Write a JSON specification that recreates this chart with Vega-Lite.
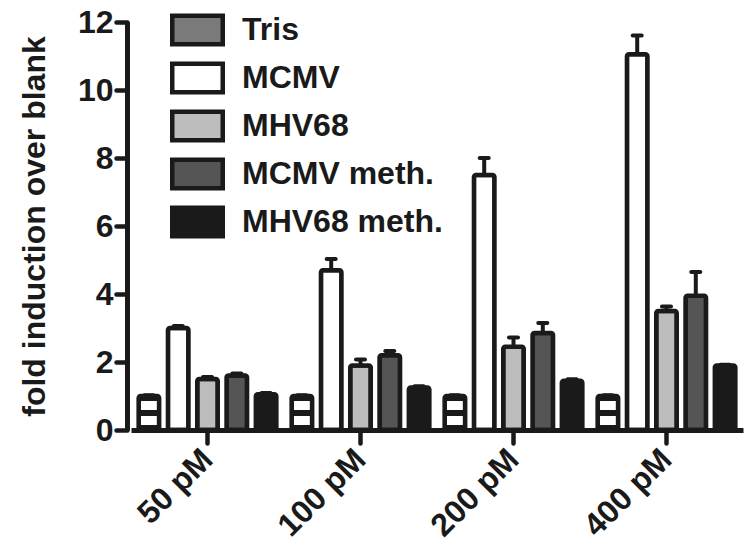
{
  "$schema": "https://vega.github.io/schema/vega-lite/v6.json",
  "width": 612,
  "height": 408,
  "autosize": {"type": "none"},
  "padding": {"left": 131, "top": 22, "right": 7, "bottom": 127},
  "background": "white",
  "config": {"view": {"stroke": null}, "font": "Liberation Sans"},
  "data": {"values": [
    {"conc": "50 pM", "group": "Tris", "value": 1.0, "hi": 1.02},
    {"conc": "50 pM", "group": "MCMV", "value": 3.0, "hi": 3.06},
    {"conc": "50 pM", "group": "MHV68", "value": 1.5, "hi": 1.56},
    {"conc": "50 pM", "group": "MCMV meth.", "value": 1.6, "hi": 1.66},
    {"conc": "50 pM", "group": "MHV68 meth.", "value": 1.05, "hi": 1.09},
    {"conc": "100 pM", "group": "Tris", "value": 1.0, "hi": 1.02},
    {"conc": "100 pM", "group": "MCMV", "value": 4.7, "hi": 5.03},
    {"conc": "100 pM", "group": "MHV68", "value": 1.9, "hi": 2.07},
    {"conc": "100 pM", "group": "MCMV meth.", "value": 2.2, "hi": 2.32},
    {"conc": "100 pM", "group": "MHV68 meth.", "value": 1.25, "hi": 1.29},
    {"conc": "200 pM", "group": "Tris", "value": 1.0, "hi": 1.02},
    {"conc": "200 pM", "group": "MCMV", "value": 7.5, "hi": 8.0},
    {"conc": "200 pM", "group": "MHV68", "value": 2.45, "hi": 2.72},
    {"conc": "200 pM", "group": "MCMV meth.", "value": 2.85, "hi": 3.15},
    {"conc": "200 pM", "group": "MHV68 meth.", "value": 1.45, "hi": 1.49},
    {"conc": "400 pM", "group": "Tris", "value": 1.0, "hi": 1.02},
    {"conc": "400 pM", "group": "MCMV", "value": 11.05, "hi": 11.6},
    {"conc": "400 pM", "group": "MHV68", "value": 3.5, "hi": 3.63},
    {"conc": "400 pM", "group": "MCMV meth.", "value": 3.95, "hi": 4.65},
    {"conc": "400 pM", "group": "MHV68 meth.", "value": 1.9, "hi": 1.92}
  ]},
  "encoding": {
    "x": {
      "field": "conc", "type": "nominal",
      "sort": ["50 pM", "100 pM", "200 pM", "400 pM"],
      "scale": {"paddingInner": 0.1, "paddingOuter": 0.05},
      "axis": {
        "title": null, "labelAngle": -45, "labelAlign": "right", "labelBaseline": "middle",
        "labelFontSize": 32, "labelFontWeight": "bold", "labelColor": "#1a1a1a",
        "labelPadding": 11,
        "tickSize": 13, "tickWidth": 4.5, "tickColor": "#1a1a1a", "tickCap": "round",
        "domainWidth": 5, "domainColor": "#1a1a1a", "grid": false
      }
    },
    "xOffset": {
      "field": "group", "type": "nominal",
      "sort": ["Tris", "MCMV", "MHV68", "MCMV meth.", "MHV68 meth."],
      "scale": {"paddingInner": 0.3, "paddingOuter": 0}
    }
  },
  "layer": [
    {
      "mark": {"type": "rule", "color": "#1a1a1a", "strokeWidth": 4},
      "encoding": {
        "y": {"field": "value", "type": "quantitative"},
        "y2": {"field": "hi"}
      }
    },
    {
      "mark": {"type": "tick", "color": "#1a1a1a", "size": 13, "thickness": 4, "cornerRadius": 2, "opacity": 1},
      "encoding": {
        "y": {"field": "hi", "type": "quantitative"}
      }
    },
    {
      "mark": {"type": "bar", "stroke": "#1a1a1a", "strokeWidth": 4.5, "cornerRadius": 2, "strokeJoin": "round"},
      "encoding": {
        "y": {
          "field": "value", "type": "quantitative",
          "scale": {"domain": [0, 12], "nice": false},
          "axis": {
            "title": "fold induction over blank", "titleFontSize": 32, "titleFontWeight": "bold",
            "titleColor": "#1a1a1a", "titlePadding": 26,
            "values": [0, 2, 4, 6, 8, 10, 12],
            "labelFontSize": 32, "labelFontWeight": "bold", "labelColor": "#1a1a1a", "labelPadding": 3,
            "tickSize": 11, "tickWidth": 4.5, "tickColor": "#1a1a1a", "tickCap": "round",
            "domainWidth": 5, "domainColor": "#1a1a1a", "grid": false, "offset": 4
          }
        },
        "fill": {
          "condition": {
            "test": "datum.group === 'Tris'",
            "value": {"gradient": "linear", "x1": 0, "y1": 0, "x2": 0, "y2": 1, "stops": [
              {"offset": 0, "color": "#1a1a1a"}, {"offset": 0.15, "color": "#1a1a1a"},
              {"offset": 0.15, "color": "#ffffff"}, {"offset": 0.4, "color": "#ffffff"},
              {"offset": 0.4, "color": "#1a1a1a"}, {"offset": 0.6, "color": "#1a1a1a"},
              {"offset": 0.6, "color": "#ffffff"}, {"offset": 0.85, "color": "#ffffff"},
              {"offset": 0.85, "color": "#1a1a1a"}, {"offset": 1, "color": "#1a1a1a"}
            ]}
          },
          "field": "group", "type": "nominal",
          "sort": ["Tris", "MCMV", "MHV68", "MCMV meth.", "MHV68 meth."],
          "scale": {
            "domain": ["Tris", "MCMV", "MHV68", "MCMV meth.", "MHV68 meth."],
            "range": ["#7a7a7a", "#ffffff", "#bdbdbd", "#555555", "#1a1a1a"]
          },
          "legend": {
            "title": null, "orient": "none", "legendX": 39, "legendY": -16, "padding": 0,
            "symbolType": "M-1,-0.56H1V0.56H-1Z", "symbolSize": 2550,
            "symbolStrokeColor": "#1a1a1a", "symbolStrokeWidth": 4.5, "symbolOpacity": 1,
            "labelFontSize": 32, "labelFontWeight": "bold", "labelColor": "#1a1a1a",
            "labelOffset": 17, "clipHeight": 48, "rowPadding": 0, "labelLimit": 400,
            "encode": {
              "symbols": {
                "update": {
                  "stroke": {"value": "#1a1a1a"},
                  "strokeWidth": {"value": 4.5}
                }
              }
            }
          }
        }
      }
    }
  ]
}
